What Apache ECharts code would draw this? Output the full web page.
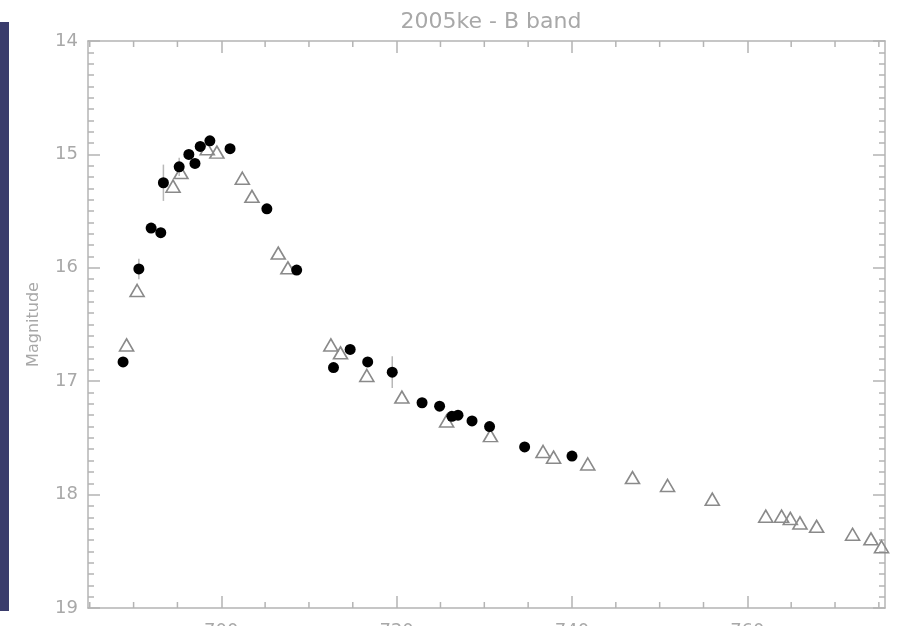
<!DOCTYPE html>
<html>
<head>
<meta charset="utf-8">
<script src="https://cdn.jsdelivr.net/npm/echarts@6/dist/echarts.min.js"></script>
<style>
  html, body { margin: 0; padding: 0; background: #fff; }
  #main { width: 899px; height: 626px; }
</style>
</head>
<body>
<div id="main"></div>
<script>
// filled circles: [day, magnitude]
const circleDays = [688.8, 690.6, 692.0, 693.1, 693.4, 695.2, 696.3, 697.0, 697.6, 698.7, 701.0, 705.2, 708.6,
  712.8, 714.7, 716.7, 719.5, 722.9, 724.9, 726.3, 727.0, 728.6, 730.6, 734.6, 740.0];
const circleMags = [16.83, 16.01, 15.65, 15.69, 15.25, 15.11, 15.00, 15.08, 14.93, 14.88, 14.95, 15.48, 16.02,
  16.88, 16.72, 16.83, 16.92, 17.19, 17.22, 17.31, 17.30, 17.35, 17.40, 17.58, 17.66];
const circleErrs = [0.04, 0.09, 0, 0, 0.16, 0.08, 0, 0, 0, 0, 0, 0, 0,
  0, 0, 0, 0.14, 0, 0, 0, 0, 0, 0, 0, 0];

// open triangles
const triDays = [689.2, 690.4, 694.5, 695.4, 698.4, 699.5, 702.4, 703.5, 706.5, 707.6, 712.5, 713.6, 716.6,
  720.6, 725.7, 730.7, 736.7, 737.9, 741.8, 746.9, 750.9, 756.0, 762.1, 763.9, 764.9, 766.0, 767.9,
  772.0, 774.1, 775.3];
const triMags = [16.68, 16.20, 15.28, 15.16, 14.95, 14.98, 15.21, 15.37, 15.87, 16.00, 16.68, 16.75, 16.95,
  17.14, 17.35, 17.48, 17.62, 17.67, 17.73, 17.85, 17.92, 18.04, 18.19, 18.19, 18.21, 18.25, 18.28,
  18.35, 18.39, 18.46];

const xMajorTicks = [700, 720, 740, 760];
const xMinorTicks = [685, 690, 695, 705, 710, 715, 725, 730, 735, 745, 750, 755, 765, 770, 775];

const xMin = 684.8, xMax = 775.7;
const yMin = 14, yMax = 19;
const axisGray = '#b4b4b4';
const textGray = '#a8a8a8';

let chart = echarts.init(document.getElementById('main'), null, { renderer: 'canvas' });

let circleData = circleDays.map((d, i) => [d, circleMags[i], circleErrs[i]]);
let triData = triDays.map((d, i) => [d, triMags[i]]);

function xAxisBase(pos, withLabel) {
  return {
    type: 'value',
    position: pos,
    min: xMin,
    max: xMax,
    axisLine: { show: true, lineStyle: { color: axisGray, width: 1.5 } },
    axisTick: { show: true, inside: true, length: 12, customValues: xMajorTicks, lineStyle: { color: axisGray, width: 1.5 } },
    axisLabel: withLabel
      ? { show: true, customValues: xMajorTicks, fontSize: 18, color: textGray, margin: 14, fontFamily: 'DejaVu Sans' }
      : { show: false },
    splitLine: { show: false }
  };
}

function yAxisBase(pos, withLabel) {
  let ax = {
    type: 'value',
    position: pos,
    inverse: true,
    min: yMin,
    max: yMax,
    interval: 1,
    axisLine: { show: true, lineStyle: { color: axisGray, width: 1.5 } },
    axisTick: { show: true, inside: true, length: 12, lineStyle: { color: axisGray, width: 1.5 } },
    minorTick: { show: true, splitNumber: 10, length: 6, lineStyle: { color: axisGray, width: 1.5 } },
    axisLabel: withLabel
      ? { show: true, fontSize: 18, color: textGray, margin: 10, fontFamily: 'DejaVu Sans' }
      : { show: false },
    splitLine: { show: false }
  };
  if (withLabel) {
    ax.name = 'Magnitude';
    ax.nameLocation = 'middle';
    ax.nameGap = 46;
    ax.nameTextStyle = { fontSize: 16, color: textGray, fontFamily: 'DejaVu Sans' };
  }
  return ax;
}

let option = {
  animation: false,
  backgroundColor: '#fff',
  title: {
    text: '2005ke - B band',
    left: 486,
    top: 6,
    textAlign: 'center',
    textStyle: { fontSize: 22, fontWeight: 'normal', color: textGray, fontFamily: 'DejaVu Sans' }
  },
  graphic: [
    { type: 'rect', left: 0, top: 22, shape: { width: 9, height: 589 }, style: { fill: '#3a3c6c' } }
  ],
  grid: { left: 88, right: 14, top: 41, bottom: 18, containLabel: false, outerBoundsMode: 'none' },
  xAxis: [
    xAxisBase('bottom', true),
    xAxisBase('top', false)
  ],
  yAxis: [
    yAxisBase('left', true),
    yAxisBase('right', false)
  ],
  series: [
    {
      // minor ticks on the bottom and top x axes
      type: 'custom',
      xAxisIndex: 0,
      yAxisIndex: 0,
      clip: false,
      silent: true,
      data: xMinorTicks.map(v => [v]),
      renderItem: function (params, api) {
        let v = api.value(0);
        let pb = api.coord([v, yMax]);
        let pt = api.coord([v, yMin]);
        let st = { stroke: axisGray, lineWidth: 1.5 };
        return {
          type: 'group',
          children: [
            { type: 'line', shape: { x1: pb[0], y1: pb[1], x2: pb[0], y2: pb[1] - 6 }, style: st },
            { type: 'line', shape: { x1: pt[0], y1: pt[1], x2: pt[0], y2: pt[1] + 6 }, style: st }
          ]
        };
      },
      z: 0
    },
    {
      // error bars
      type: 'custom',
      xAxisIndex: 0,
      yAxisIndex: 0,
      data: circleData.filter(p => p[2] > 0),
      renderItem: function (params, api) {
        let x = api.value(0), y = api.value(1), e = api.value(2);
        let p1 = api.coord([x, y - e]);
        let p2 = api.coord([x, y + e]);
        return {
          type: 'line',
          shape: { x1: p1[0], y1: p1[1], x2: p2[0], y2: p2[1] },
          style: { stroke: '#b8b8b8', lineWidth: 1.5 }
        };
      },
      z: 1
    },
    {
      type: 'scatter',
      xAxisIndex: 0,
      yAxisIndex: 0,
      data: triData,
      symbol: 'triangle',
      symbolSize: [14, 12],
      itemStyle: { color: 'rgba(255,255,255,0)', borderColor: '#8a8a8a', borderWidth: 1.6, opacity: 1 },
      z: 2
    },
    {
      type: 'scatter',
      xAxisIndex: 0,
      yAxisIndex: 0,
      data: circleData,
      symbol: 'circle',
      symbolSize: 11,
      itemStyle: { color: '#000', opacity: 1 },
      z: 3
    }
  ]
};

chart.setOption(option);
window.addEventListener('resize', chart.resize);
</script>
</body>
</html>
